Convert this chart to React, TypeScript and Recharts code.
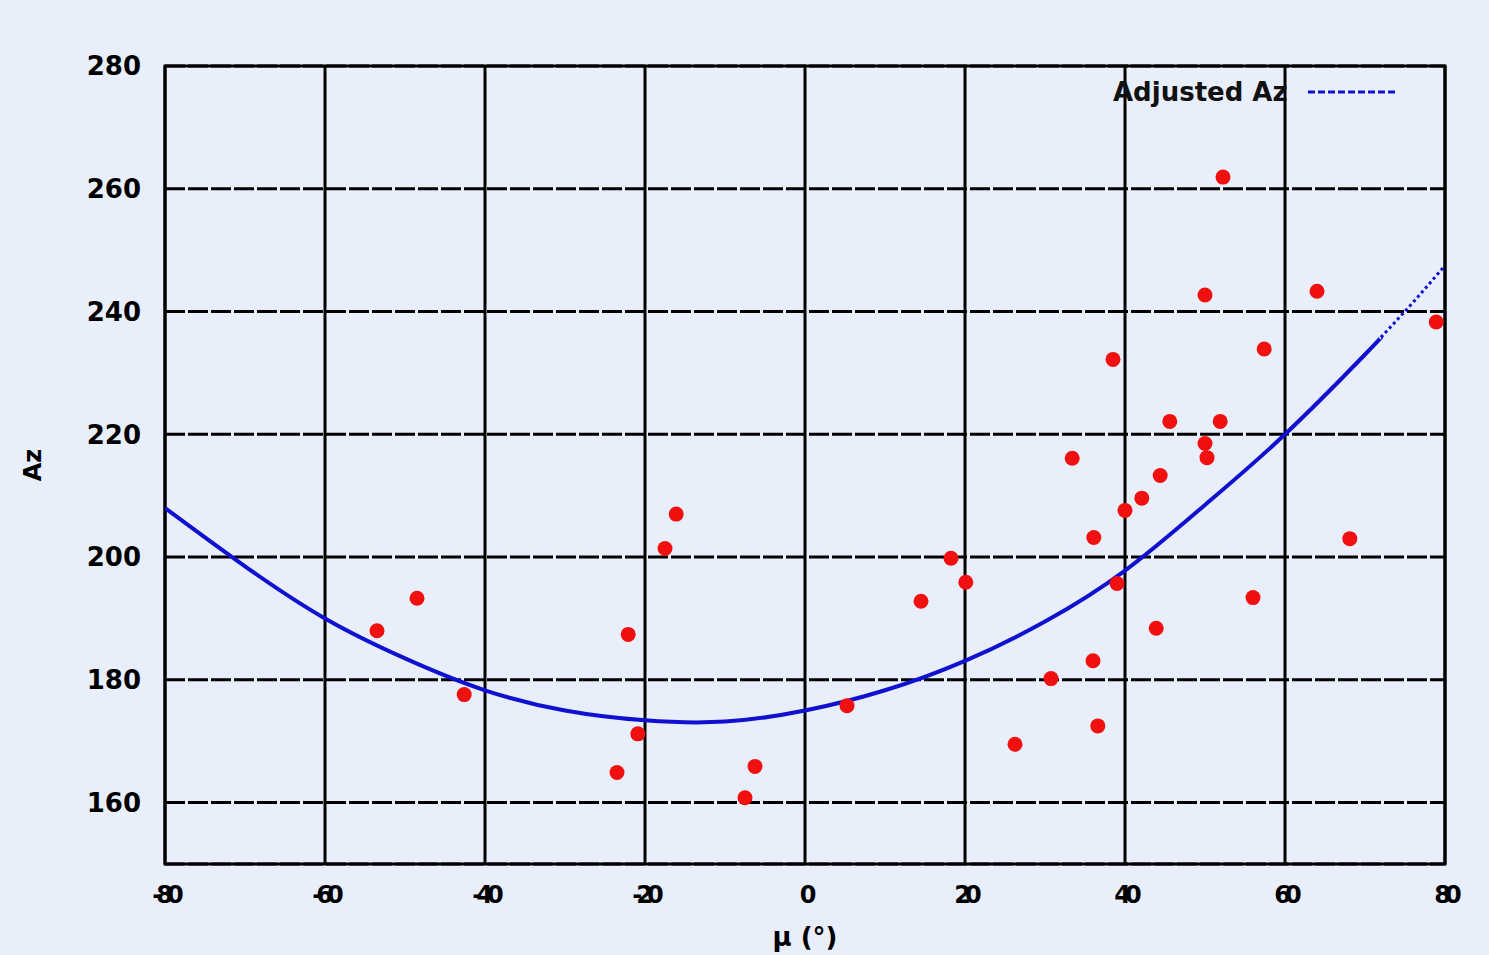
import {
  ComposedChart,
  Line,
  Scatter,
  XAxis,
  YAxis,
  CartesianGrid,
  ReferenceArea,
} from 'recharts';

// measured points (red)
const muValues = [
  -53.5, -48.5, -42.6, -23.5, -22.1, -20.9, -17.5, -16.1, -7.5, -6.25,
  5.25, 14.5, 18.25, 20.1, 26.25, 30.75, 33.4, 36, 36.1, 36.6,
  38.5, 39, 40, 42.1, 43.9, 44.4, 45.6, 50, 50, 50.25,
  51.9, 52.25, 56, 57.4, 64, 68.1, 78.9,
];
const azValues = [
  188, 193.3, 177.6, 164.9, 187.4, 171.2, 201.4, 207, 160.8, 165.9,
  175.8, 192.8, 199.8, 195.9, 169.5, 180.2, 216.1, 183.1, 203.2, 172.5,
  232.2, 195.7, 207.6, 209.6, 188.4, 213.3, 222.1, 242.7, 218.5, 216.2,
  222.1, 261.9, 193.4, 233.9, 243.3, 203, 238.3,
];

// fitted curve
const curveMu = [-80, -70, -60, -50, -40, -30, -20, -10, 0, 10, 20, 30, 40, 50, 60, 70, 72];
const curveAz = [208, 198.5, 190, 183.5, 178.3, 175, 173.4, 173.2, 175, 178.3, 183.1, 189.5, 197.8, 208.5, 220, 233, 235.8];
// dotted tail of the curve
const tailMu = [72, 76, 80];
const tailAz = [235.8, 241.5, 247.5];

const xTicks = [-80, -60, -40, -20, 0, 20, 40, 60, 80];
const yTicks = [160, 180, 200, 220, 240, 260, 280];

const points = muValues.map((x, i) => ({ x, y: azValues[i] }));
const curve = curveMu.map((x, i) => ({ x, y: curveAz[i] }));
const tail = tailMu.map((x, i) => ({ x, y: tailAz[i] }));

const font = '"DejaVu Sans", sans-serif';

const LegendBox = () => (
  <div
    style={{
      position: 'absolute', left: 1113, top: 77, display: 'flex', alignItems: 'center',
      fontFamily: font, fontWeight: 'bold', fontSize: 26, color: '#111',
    }}
  >
    <span>Adjusted Az</span>
    <svg width={100} height={10} style={{ marginLeft: 18 }}>
      <line x1={2} y1={5} x2={90} y2={5} stroke="#1010d0" strokeWidth={3} strokeDasharray="7 3" />
    </svg>
  </div>
);

export default function App() {
  return (
    <div style={{ position: 'absolute', left: 0, top: 0, width: 1489, height: 955, background: '#e9effa' }}>
      <ComposedChart
        width={1489}
        height={955}
        margin={{ top: 66, right: 44, bottom: 11, left: 65 }}
      >
        <CartesianGrid horizontal={false} stroke="#000" strokeWidth={3} />
        <CartesianGrid vertical={false} stroke="#000" strokeWidth={3} strokeDasharray="20 3" />
        <XAxis
          type="number"
          dataKey="x"
          domain={[-80, 80]}
          ticks={xTicks}
          allowDataOverflow
          height={80}
          axisLine={false}
          tickLine={false}
          tickMargin={16}
          tick={{ fontFamily: font, fontWeight: 'bold', fontSize: 24, fill: '#000', letterSpacing: -6 }}
          label={{ value: 'µ (°)', position: 'insideBottom', offset: -2, style: { fontFamily: font, fontWeight: 'bold', fontSize: 26, fill: '#000' } }}
        />
        <YAxis
          type="number"
          dataKey="y"
          domain={[150, 280]}
          ticks={yTicks}
          allowDataOverflow
          width={100}
          axisLine={false}
          tickLine={false}
          tickMargin={18}
          tick={{ fontFamily: font, fontWeight: 'bold', fontSize: 26, fill: '#000' }}
          label={{ value: 'Az', angle: -90, position: 'insideLeft', offset: -33, style: { fontFamily: font, fontWeight: 'bold', fontSize: 24, fill: '#000', textAnchor: 'middle' } }}
        />
        <ReferenceArea x1={-80} x2={80} y1={150} y2={280} fill="none" stroke="#000" strokeWidth={3} />
        <Line
          data={curve}
          dataKey="y"
          name="Adjusted Az"
          type="natural"
          stroke="#1010d0"
          strokeWidth={4}
          dot={false}
          isAnimationActive={false}
        />
        <Line
          data={tail}
          dataKey="y"
          type="natural"
          stroke="#1010d0"
          strokeWidth={3}
          strokeDasharray="3 3"
          dot={false}
          isAnimationActive={false}
        />
        <Scatter
          data={points}
          dataKey="y"
          fill="#f01010"
          shape={(p: any) => <circle cx={p.cx} cy={p.cy} r={7.5} fill="#f01010" />}
          isAnimationActive={false}
        />
      </ComposedChart>
      <LegendBox />
    </div>
  );
}
